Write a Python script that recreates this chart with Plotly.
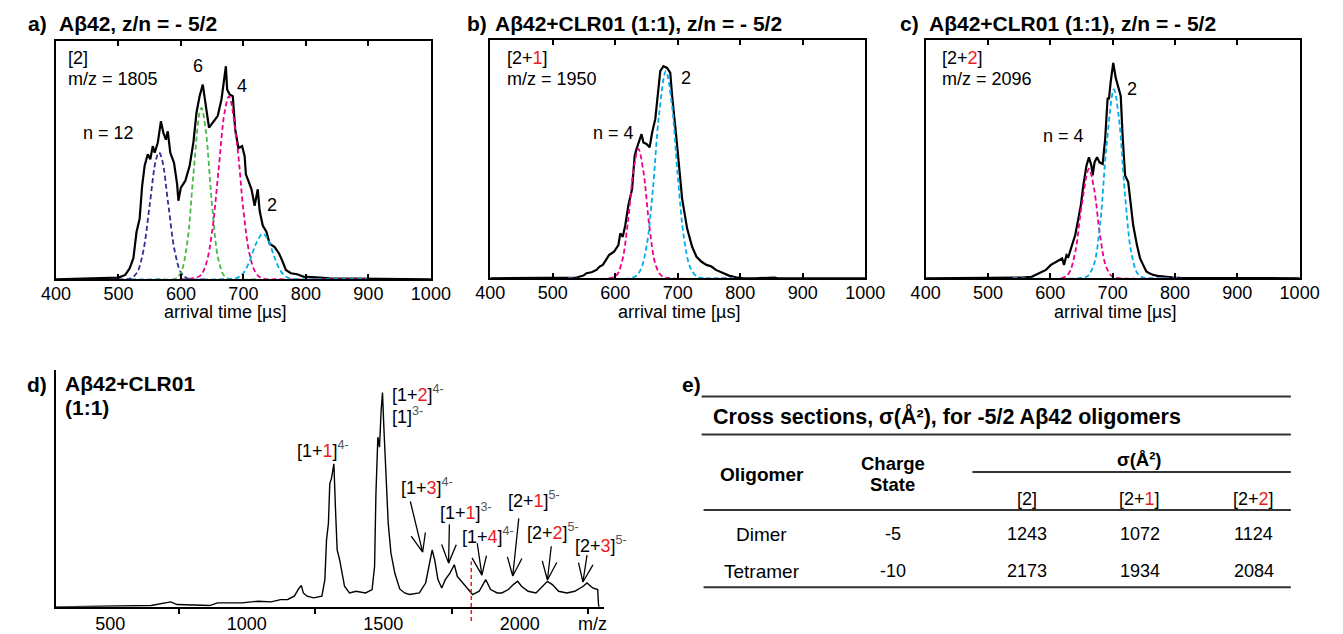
import math
import plotly.graph_objects as go

W, H = 1343, 634
FONT = "Liberation Sans, Arial, Helvetica, sans-serif"
RED = "#ed1c24"
NAVY = "#2e3192"
GREEN = "#4cb848"
MAGENTA = "#ec008c"
CYAN = "#00aeef"

# ---------------- Panel a: A-beta42 [2], m/z 1805 ----------------
a_t = [400, 490, 500, 511, 518, 524, 529, 534, 538, 542, 547, 551, 555, 558, 563, 568, 572, 576, 579, 583,
       589, 594, 596, 600, 607, 614, 620, 625, 630, 635, 640, 645, 651, 659, 665, 669, 672, 674, 678, 683,
       687, 692, 698, 702, 704, 708, 713, 718, 723, 726, 731, 737, 742, 750, 757, 763, 768, 776, 786, 796,
       807, 822, 838, 864, 900, 1000]
a_y = [0, 0.4, 0.7, 1.8, 4.6, 8.8, 19.8, 25.4, 39.2, 47.6, 52.4, 50.3, 55.8, 53.1, 57.2, 66.2, 61.3, 58.5, 62.0, 53.1,
       48.8, 39.8, 32.9, 38.4, 41.2, 47.6, 57.4, 69.9, 76.8, 81.6, 72.7, 63.6, 65.7, 68.5, 75.5, 82.4, 89.3, 79.6, 77.5, 76.8,
       62.6, 55.0, 55.8, 51.6, 44.0, 41.2, 37.7, 30.8, 37.7, 28.7, 22.5, 19.8, 14.9, 13.5, 10.8, 7.3, 3.9, 2.5, 2.1, 1.1,
       1.0, 0.7, 0.4, 0.3, 0.1, 0]
a_fit12_t = [500, 520, 530, 540, 550, 560, 565, 570, 580, 590, 600, 610, 640]
a_fit12_y = [0, 0.4, 2.9, 12, 31, 50, 53.1, 50, 31, 12, 2.9, 0.4, 0]
a_fit6_t = [560, 590, 600, 610, 620, 630, 633, 640, 650, 660, 670, 680, 720]
a_fit6_y = [0, 0.1, 2.9, 15, 44, 70, 71.8, 62, 30.5, 8.3, 1.2, 0.1, 0]
a_fit4_t = [600, 630, 640, 650, 660, 670, 677, 690, 700, 710, 720, 730, 760, 900]
a_fit4_y = [0, 1.3, 6.2, 20.1, 45.1, 70.1, 76.7, 56.2, 29.0, 10.4, 2.6, 0.4, 0, 0]
a_fit2_t = [520, 660, 690, 700, 710, 720, 731, 740, 750, 760, 770, 780, 820, 900]
a_fit2_y = [0, 0, 0.6, 2.6, 7.6, 14.8, 19.1, 16.2, 9.0, 3.3, 0.8, 0.1, 0, 0]

# ---------------- Panel b: [2+1], m/z 1950 ----------------
b_t = [400, 525, 538, 549, 554, 562, 570, 575, 580, 585, 590, 598, 605, 608, 612, 616, 621, 627, 631, 634,
       638, 642, 645, 650, 655, 659, 664, 668, 672, 677, 683, 688, 691, 697, 702, 707, 715, 723, 730, 738,
       746, 754, 761, 772, 782, 793, 803, 824, 855, 860, 1000]
b_y = [0, 0, 0.3, 1.1, 2.1, 2.5, 3.5, 4.9, 5.6, 7.6, 9.7, 11.1, 13.9, 18.8, 17.4, 22.2, 30.6, 37.5, 51.4, 54.2,
       56.9, 60.4, 56.9, 56.3, 54.9, 61.1, 66.7, 77.8, 86.8, 88.9, 88.2, 86.1, 76.4, 61.1, 47.2, 33.3, 20.8, 13.2, 9.0, 6.9,
       5.6, 4.9, 3.5, 2.1, 1.1, 0.4, 0.1, 0, 0.3, 0, 0]
b_fit4_t = [525, 600, 610, 620, 630, 637, 645, 655, 665, 675, 690, 790]
b_fit4_y = [0, 0.9, 6.3, 23, 46.9, 54.2, 44.8, 20.8, 5.3, 0.8, 0, 0]
b_fit2_t = [525, 630, 640, 650, 660, 670, 681, 690, 700, 710, 720, 730, 740, 790]
b_fit2_y = [0, 0.5, 3.3, 13.3, 36.7, 68.5, 86.8, 74.1, 42.9, 16.8, 4.5, 0.8, 0.1, 0]

# ---------------- Panel c: [2+2], m/z 2096 ----------------
c_t = [400, 538, 554, 570, 577, 583, 585, 593, 601, 609, 614, 619, 622, 626, 629, 635, 640, 645, 649, 653,
       658, 662, 666, 668, 671, 675, 679, 684, 688, 692, 694, 697, 701, 705, 709, 713, 716, 720, 725, 728,
       733, 739, 744, 749, 754, 759, 765, 772, 783, 798, 814, 1000]
c_y = [0, 0, 0.3, 0.6, 1.4, 2.1, 2.5, 3.5, 5.6, 6.9, 7.6, 8.3, 5.6, 9.7, 9.0, 13.9, 18.1, 25.0, 30.6, 38.9,
       47.2, 50.7, 47.2, 43.1, 48.6, 50.7, 48.6, 47.9, 58.3, 75.7, 75.0, 82.6, 90.3, 84.0, 79.9, 76.4, 59.7, 43.1, 40.3, 33.3,
       22.2, 13.9, 8.3, 5.6, 2.8, 2.1, 1.4, 1.0, 0.6, 0.3, 0.1, 0]
c_fit4_t = [540, 620, 630, 640, 650, 662, 670, 680, 690, 700, 710, 810]
c_fit4_y = [0, 0.2, 2.2, 11, 29.9, 45.8, 37.9, 17.6, 4.5, 0.6, 0, 0]
c_fit2_t = [540, 650, 660, 670, 680, 690, 702, 710, 720, 730, 740, 750, 760, 810]
c_fit2_y = [0, 0.1, 0.9, 5.8, 23, 54.9, 79.2, 67.3, 34.6, 10.7, 2, 0.2, 0, 0]

atd_ticks = [400, 500, 600, 700, 800, 900, 1000]

# ---------------- Panel d: mass spectrum ----------------
d_mz = [300, 508, 650, 721, 745, 864, 893, 982, 1042, 1089, 1124, 1150, 1174, 1192, 1200, 1207, 1221, 1245, 1275, 1286,
        1292, 1299, 1304, 1310, 1319, 1325, 1331, 1340, 1350, 1358, 1376, 1400, 1435, 1459, 1468, 1473, 1480, 1486, 1492, 1497,
        1502, 1509, 1518, 1528, 1542, 1560, 1578, 1596, 1632, 1655, 1669, 1679, 1688, 1700, 1714, 1727, 1744, 1760, 1771, 1792,
        1810, 1827, 1851, 1875, 1893, 1917, 1934, 1958, 1976, 1992, 2006, 2030, 2059, 2083, 2101, 2119, 2142, 2172, 2201, 2232,
        2246, 2267, 2285, 2288, 2290]
d_int = [0, 0.7, 1.3, 5, 2.3, 1.3, 4, 4, 5.7, 5, 7.3, 7.4, 10.7, 19, 21.4, 14, 10.7, 9, 10.7, 27.4,
         67.4, 84, 124, 129, 144, 97.4, 57.4, 47.4, 34, 20.7, 14, 15.7, 14, 17.4, 40.7, 114, 170.7, 160.7, 197.4, 215.7,
         180.7, 130.7, 84, 54, 34, 18, 14, 12.4, 14, 24, 44, 57.4, 47.4, 27.4, 19, 27.4, 34, 42.4, 30.7, 24,
         17.4, 12.4, 15.7, 27.4, 17.4, 14, 14, 17.4, 22.4, 25.7, 20.7, 15.7, 14, 20.7, 25.7, 22.4, 15.7, 14, 15.7, 20.7,
         24, 19, 17.4, 2.4, 0]
d_labeled_ticks = [500, 1000, 1500, 2000]
d_minor_ticks = [750, 1250, 1750, 2250]
d_marker_mz = 1822

# peak labels (oligomer, bound CLR01, charge) and arrows
d_labels = [("1", "1", "4-"), ("1", "2", "4-"), ("1", "3", "4-"), ("1", "1", "3-"),
            ("1", "4", "4-"), ("2", "1", "5-"), ("2", "2", "5-"), ("2", "3", "5-")]
d_label_mz = [1175, 1524, 1556, 1702, 1780, 1949, 2020, 2194]
d_label_int = [158, 215, 121, 96, 72, 108, 76, 63]
d_arrow_tail_mz = [1599, 1742, 1844, 1996, 2115, 2246]
d_arrow_tail_int = [106, 83, 64, 89, 61, 52]
d_arrow_head_mz = [1644, 1739, 1861, 1974, 2101, 2231]
d_arrow_head_int = [55, 44, 32, 31, 27, 25]

# ---------------- Panel e: table ----------------
table_title = "Cross sections, σ(Å²), for -5/2 Aβ42 oligomers"
oligomers = ["Dimer", "Tetramer"]
charge_states = ["-5", "-10"]
species = [("2", None), ("2", "1"), ("2", "2")]
sigma_2 = [1243, 2173]
sigma_21 = [1072, 1934]
sigma_22 = [1124, 2084]

for arrs in [(a_t, a_y), (b_t, b_y), (c_t, c_y), (d_mz, d_int)]:
    assert len(arrs[0]) == len(arrs[1])

# ================= figure =================
fig = go.Figure()


def X(px):
    return px / W


def Y(py):
    return 1 - py / H


def line_trace(x, y, ax, color, width, dash=None, shape="linear"):
    fig.add_trace(go.Scatter(x=x, y=y, xaxis="x" + ax, yaxis="y" + ax, mode="lines",
                             line=dict(color=color, width=width, dash=dash, shape=shape),
                             showlegend=False, hoverinfo="skip"))


DASH = "5px,3px"
# panel a
line_trace(a_t, a_y, "", "black", 2.2)
line_trace(a_fit12_t, a_fit12_y, "", NAVY, 1.8, DASH, "spline")
line_trace(a_fit6_t, a_fit6_y, "", GREEN, 1.8, DASH, "spline")
line_trace(a_fit4_t, a_fit4_y, "", MAGENTA, 1.8, DASH, "spline")
line_trace(a_fit2_t, a_fit2_y, "", CYAN, 1.8, DASH, "spline")
# panel b
line_trace(b_t, b_y, "2", "black", 2.2)
line_trace(b_fit4_t, b_fit4_y, "2", MAGENTA, 1.8, DASH, "spline")
line_trace(b_fit2_t, b_fit2_y, "2", CYAN, 1.8, DASH, "spline")
# panel c
line_trace(c_t, c_y, "3", "black", 2.2)
line_trace(c_fit4_t, c_fit4_y, "3", MAGENTA, 1.8, DASH, "spline")
line_trace(c_fit2_t, c_fit2_y, "3", CYAN, 1.8, DASH, "spline")
# panel d
line_trace(d_mz, d_int, "4", "black", 1.4)

# axes geometry (pixels)
panel_boxes = {"": (42, 427, 41, 281), "2": (488, 873, 40, 280), "3": (935, 1319, 40, 280)}
D_X0, D_X1, D_Y0, D_Y1 = 41.7, 605, 372, 610.7
D_RANGE_X = [300, 2309]
D_RANGE_Y = [0, 238.7]

lay = {}
for key, (x0, x1, y0, y1) in panel_boxes.items():
    lay["xaxis" + key] = dict(domain=[X(x0), X(x1)], range=[400, 1000], anchor="y" + key,
                              tickmode="array", tickvals=atd_ticks, ticks="inside", ticklen=5,
                              tickwidth=1.5, tickcolor="black", showline=True, linecolor="black",
                              linewidth=2, mirror="ticks", showgrid=False, zeroline=False,
                              ticklabelstandoff=-3,
                              tickfont=dict(family=FONT, size=18, color="black"))
    lay["yaxis" + key] = dict(domain=[Y(y1), Y(y0)], range=[0, 100], anchor="x" + key,
                              showline=True, linecolor="black", linewidth=2, mirror=True,
                              ticks="", showticklabels=False, showgrid=False, zeroline=False)

lay["xaxis4"] = dict(domain=[X(D_X0), X(D_X1)], range=D_RANGE_X, anchor="y4",
                     tickmode="array", tickvals=d_labeled_ticks, ticks="",
                     minor=dict(tickmode="array", tickvals=d_minor_ticks, ticks="outside", ticklen=5,
                                tickwidth=1.5, tickcolor="black"),
                     showline=True, linecolor="black", linewidth=2, showgrid=False, zeroline=False,
                     tickfont=dict(family=FONT, size=18, color="black"))
lay["yaxis4"] = dict(domain=[Y(D_Y1), Y(D_Y0)], range=D_RANGE_Y, anchor="x4",
                     showline=True, linecolor="black", linewidth=2, ticks="", showticklabels=False,
                     showgrid=False, zeroline=False)

# open "V" arrows in panel d, built from tail/head points in data units
sx = (D_X1 - D_X0) / (D_RANGE_X[1] - D_RANGE_X[0])
sy = (D_Y1 - D_Y0) / (D_RANGE_Y[1] - D_RANGE_Y[0])
ARM, HALF = 20, math.radians(22)
for tx, ty, hx, hy in zip(d_arrow_tail_mz, d_arrow_tail_int, d_arrow_head_mz, d_arrow_head_int):
    dx, dy = (hx - tx) * sx, (hy - ty) * sy
    L = math.hypot(dx, dy)
    bx, by = -dx / L, -dy / L
    xs, ys = [tx, hx], [ty, hy]
    for sgn in (1, -1):
        c, s = math.cos(sgn * HALF), math.sin(sgn * HALF)
        rx, ry = bx * c - by * s, bx * s + by * c
        xs += [hx + rx * ARM / sx, None, hx] if sgn == 1 else [hx + rx * ARM / sx]
        ys += [hy + ry * ARM / sy, None, hy] if sgn == 1 else [hy + ry * ARM / sy]
    fig.add_trace(go.Scatter(x=xs, y=ys, xaxis="x4", yaxis="y4", mode="lines",
                             line=dict(color="black", width=1.3), showlegend=False,
                             hoverinfo="skip", connectgaps=False))

ann = []


def txt(x, y, text, size=18, bold=False, xanchor="center", xref="paper", yref="paper", color="black"):
    if bold:
        text = "<b>" + text + "</b>"
    ann.append(dict(x=x, y=y, xref=xref, yref=yref, text=text, showarrow=False, xanchor=xanchor,
                    yanchor="middle", font=dict(family=FONT, size=size, color=color)))


def red(s):
    return "<span style='color:%s'>%s</span>" % (RED, s)


def species_text(base, add):
    return "[" + base + ("+" + red(add) if add else "") + "]"


# panel titles
title_ab = "Aβ42, z/n = - 5/2"
title_cl = "Aβ42+CLR01 (1:1), z/n = - 5/2"
for lab, lx, tx, ttl in [("a)", 11.7, 43.3, title_ab), ("b)", 461.7, 491, title_cl), ("c)", 906.7, 936.7, title_cl)]:
    txt(X(lx), Y(23.3), lab, 21, True, "left")
    txt(X(tx), Y(23.3), ttl, 21, True, "left")

# axis titles
for cx in [215.5, 682, 1129]:
    txt(X(cx), Y(314), "arrival time [µs]", 18)

# panel a labels
txt(415.6, 92.9, "[2]", 18, xanchor="left", xref="x", yref="y")
txt(415.6, 83.75, "m/z = 1805", 18, xanchor="left", xref="x", yref="y")
txt(484.6, 61.5, "n = 12", 18, xref="x", yref="y")
txt(628, 89.3, "6", 18, xref="x", yref="y")
txt(698.2, 81, "4", 18, xref="x", yref="y")
txt(746, 31, "2", 18, xref="x", yref="y")
# panel b labels
txt(423.9, 92.4, species_text("2", "1"), 18, xanchor="left", xref="x2", yref="y2")
txt(423.9, 83.6, "m/z = 1950", 18, xanchor="left", xref="x2", yref="y2")
txt(596.6, 61.1, "n = 4", 18, xref="x2", yref="y2")
txt(713.8, 84, "2", 18, xref="x2", yref="y2")
# panel c labels
txt(422.3, 92.4, species_text("2", "2"), 18, xanchor="left", xref="x3", yref="y3")
txt(422.3, 83.6, "m/z = 2096", 18, xanchor="left", xref="x3", yref="y3")
txt(621.4, 59.7, "n = 4", 18, xref="x3", yref="y3")
txt(730.8, 79.2, "2", 18, xref="x3", yref="y3")

# panel d texts
txt(X(10), Y(386.7), "d)", 21, True, "left")
txt(X(49.3), Y(385.7), "Aβ42+CLR01", 21, True, "left")
txt(X(49.3), Y(410), "(1:1)", 21, True, "left")
txt(X(593), Y(628), "m/z", 18)
for (base, add, z), mz, inten in zip(d_labels, d_label_mz, d_label_int):
    t = "[" + base + "+" + red(add) + "]<sup><span style='color:#555555'>" + z + "</span></sup>"
    txt(mz, inten, t, 18, xanchor="left", xref="x4", yref="y4")
txt(1524, 193, "[1]<sup><span style='color:#555555'>3-</span></sup>", 18, xanchor="left", xref="x4", yref="y4")

# panel e table
txt(X(683), Y(387), "e)", 21, True, "left")
txt(X(715), Y(418.3), table_title, 21.5, True, "left")
col_x = [766.7, 901, 1039, 1155, 1272]
txt(X(col_x[0]), Y(477.7), "Oligomer", 19, True)
txt(X(col_x[1]), Y(466), "Charge", 18.5, True)
txt(X(col_x[1]), Y(487.7), "State", 18.5, True)
txt(X(col_x[3]), Y(462.3), "σ(Å²)", 18.5, True)
for (base, add), cx in zip(species, col_x[2:]):
    txt(X(cx), Y(501.7), species_text(base, add), 18)
row_y = [537.7, 575]
for i, ry in enumerate(row_y):
    vals = [oligomers[i], charge_states[i], str(sigma_2[i]), str(sigma_21[i]), str(sigma_22[i])]
    for j, (v, cx) in enumerate(zip(vals, col_x)):
        txt(X(cx), Y(ry), v, 19 if j == 0 else 18)

shapes = []
for y_px, x0, x1 in [(399, 705, 1310), (437.3, 705, 1310), (475, 983, 1310), (513.3, 707, 1310), (591, 707, 1310)]:
    shapes.append(dict(type="line", xref="paper", yref="paper", x0=X(x0), x1=X(x1), y0=Y(y_px), y1=Y(y_px),
                       line=dict(color="#333333", width=2)))
shapes.append(dict(type="line", xref="x4", yref="paper", x0=d_marker_mz, x1=d_marker_mz, y0=Y(625), y1=Y(565),
                   line=dict(color=RED, width=1.5, dash="4px,3px")))

fig.update_layout(width=W, height=H, autosize=False, margin=dict(l=0, r=0, t=0, b=0, pad=0),
                  paper_bgcolor="white", plot_bgcolor="white", annotations=ann, shapes=shapes,
                  font=dict(family=FONT, size=18, color="black"), **lay)

fig.write_html("out.html", config={"displayModeBar": False},
               post_script="document.body.style.margin='0';document.body.style.overflow='hidden';")
